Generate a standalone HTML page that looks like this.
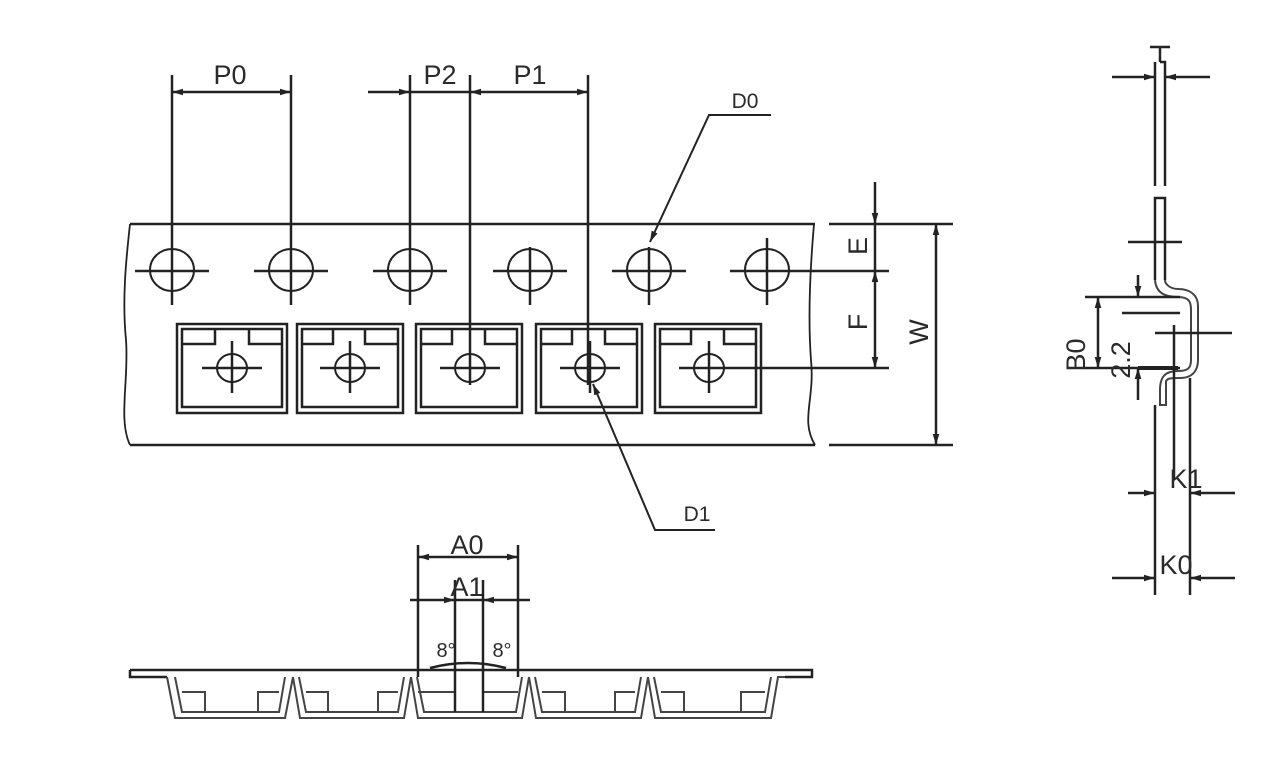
<!DOCTYPE html>
<html><head><meta charset="utf-8"><style>
html,body{margin:0;padding:0;background:#fff;}
svg{display:block;}
text{font-family:"Liberation Sans",sans-serif;fill:#2a2a2a;}
</style></head><body>
<svg width="1283" height="783" viewBox="0 0 1283 783" xmlns="http://www.w3.org/2000/svg">
<defs>
<marker id="a" viewBox="0 0 10 6" refX="10" refY="3" markerWidth="11" markerHeight="7" orient="auto-start-reverse" markerUnits="userSpaceOnUse"><path d="M0,0 L10,3 L0,6 Z" fill="#222"/></marker>
</defs>
<g stroke="#222" stroke-width="2.5" fill="none">
<line x1="130" y1="224" x2="815" y2="224"/>
<line x1="130" y1="445" x2="815" y2="445"/>
<path d="M130,224 C126,260 122,300 126,340 C129,380 118,420 130,445" stroke-width="1.8"/>
<path d="M814,224 C810,270 808,320 811,360 C815,400 800,420 815,445" stroke-width="1.8"/>
<g stroke-width="2">
<ellipse cx="172" cy="270" rx="22" ry="21"/><ellipse cx="291" cy="270" rx="22" ry="21"/>
<ellipse cx="410" cy="270" rx="22" ry="21"/><ellipse cx="530" cy="270" rx="22" ry="21"/>
<ellipse cx="649" cy="270" rx="22" ry="21"/><ellipse cx="767" cy="270" rx="22" ry="21"/>
</g>
<path d="M135,271H209 M254,271H328 M373,271H447 M493,271H567 M612,271H686 M730,271H889"/>
<path d="M172,75V305 M291,75V305 M410,75V305 M530,247V305 M649,247V305 M767,238V305"/>
<path d="M470,75V385 M588,75V385"/>
<g>
<rect x="177" y="324" width="110" height="89"/><rect x="182" y="329" width="100" height="78"/>
<path d="M182,344H215V329 M249,329V344H282"/>
<rect x="297" y="324" width="106" height="89"/><rect x="302" y="329" width="96" height="78"/>
<path d="M302,344H333V329 M365,329V344H398"/>
<rect x="416" y="324" width="106" height="89"/><rect x="421" y="329" width="96" height="78"/>
<path d="M421,344H452V329 M485,329V344H517"/>
<rect x="536" y="324" width="106" height="89"/><rect x="541" y="329" width="96" height="78"/>
<path d="M541,344H572V329 M605,329V344H637"/>
<rect x="655" y="324" width="106" height="89"/><rect x="660" y="329" width="96" height="78"/>
<path d="M660,344H691V329 M724,329V344H756"/>
</g>
<g stroke-width="2">
<ellipse cx="232" cy="368" rx="15" ry="14"/><ellipse cx="350" cy="368" rx="15" ry="14"/>
<ellipse cx="470" cy="368" rx="15" ry="14"/><ellipse cx="590" cy="368" rx="15" ry="14"/>
<ellipse cx="709" cy="368" rx="15" ry="14"/>
</g>
<path d="M202,368H262 M232,341V393 M320,368H380 M350,341V393 M440,368H500 M560,368H620 M590,341V393 M679,368H889 M709,341V393"/>
<line x1="172" y1="92" x2="291" y2="92" marker-start="url(#a)" marker-end="url(#a)"/>
<line x1="368" y1="92" x2="410" y2="92" marker-end="url(#a)"/>
<line x1="470" y1="92" x2="588" y2="92" marker-start="url(#a)" marker-end="url(#a)"/>
<line x1="410" y1="92" x2="470" y2="92"/>
<polyline points="650,242 709,115 771,115" stroke-width="2" marker-start="url(#a)"/>
<polyline points="593,384 655,530 715,530" stroke-width="2" marker-start="url(#a)"/>
<line x1="829" y1="224" x2="953" y2="224"/>
<line x1="829" y1="445" x2="953" y2="445"/>
<line x1="875" y1="182" x2="875" y2="224" marker-end="url(#a)"/>
<line x1="875" y1="224" x2="875" y2="271"/>
<line x1="875" y1="271" x2="875" y2="368" marker-start="url(#a)" marker-end="url(#a)"/>
<line x1="936" y1="224" x2="936" y2="445" marker-start="url(#a)" marker-end="url(#a)"/>
<path d="M1155,62V186 M1165,70V186 M1155,62V70"/>
<path d="M1150,47H1170 M1160,47V62 M1160,62H1165V70"/>
<line x1="1112" y1="77" x2="1155" y2="77" marker-end="url(#a)"/>
<line x1="1210" y1="77" x2="1165" y2="77" marker-end="url(#a)"/>
<path d="M1155,280V198H1165V280"/>
<path d="M1128,242H1182"/>
<path d="M1155,280 C1156,293 1165,297 1178,297 C1190,297 1191,303 1191,310 V360 C1191,368 1188,371 1178,371 C1165,371 1160,377 1160,390 V405 H1166 V382 C1166,378 1172,378 1180,378 C1193,378 1198,370 1198,360 V306 C1198,295 1190,289 1178,289 C1170,289 1165,284 1165,280" stroke="#444" stroke-width="2"/>
<path d="M1085,297H1180 M1085,368H1180 M1122,313H1180 M1155,333H1232"/>
<line x1="1138" y1="368" x2="1178" y2="368" stroke-width="4"/>
<line x1="1098" y1="297" x2="1098" y2="368" marker-start="url(#a)" marker-end="url(#a)"/>
<line x1="1138" y1="275" x2="1138" y2="297" marker-end="url(#a)"/>
<line x1="1138" y1="400" x2="1138" y2="368" marker-end="url(#a)"/>
<path d="M1174,325V480 M1155,405V595 M1190,378V595"/>
<line x1="1128" y1="493" x2="1155" y2="493" marker-end="url(#a)"/>
<line x1="1235" y1="493" x2="1190" y2="493" marker-end="url(#a)"/>
<line x1="1112" y1="578" x2="1155" y2="578" marker-end="url(#a)"/>
<line x1="1235" y1="578" x2="1190" y2="578" marker-end="url(#a)"/>
<path d="M130,670H812V677H785 M130,670V677H167"/>
<g stroke="#444" stroke-width="2">
<path d="M167,677 L175,718 H285 L293,677 M175,677 L182,712 H279 L285,677 M182,692H205V712 M258,712V692H279"/>
<path d="M293,677 L300,718 H404 L411,677 M299,677 L306,712 H398 L404,677 M306,692H328V712 M378,712V692H398"/>
<path d="M411,677 L418,718 H522 L529,677 M417,677 L424,712 H516 L522,677 M418,692H455 M483,692H518"/>
<path d="M529,677 L536,718 H641 L648,677 M535,677 L542,712 H635 L641,677 M542,692H565V712 M615,712V692H635"/>
<path d="M648,677 L655,718 H771 L778,677 H785 M654,677 L661,712 H765 L771,677 M661,692H684V712 M741,712V692H765"/>
</g>
<path d="M418,545V677 M518,545V677 M455,580V712 M483,580V712"/>
<line x1="418" y1="557" x2="518" y2="557" marker-start="url(#a)" marker-end="url(#a)"/>
<line x1="410" y1="600" x2="455" y2="600" marker-end="url(#a)"/>
<line x1="530" y1="600" x2="483" y2="600" marker-end="url(#a)"/>
<line x1="455" y1="600" x2="483" y2="600"/>
<path d="M430,668 Q468,658 506,668" stroke-width="2.5"/>
</g>
<g font-size="27">
<text x="230" y="84" text-anchor="middle">P0</text>
<text x="440" y="84" text-anchor="middle">P2</text>
<text x="530" y="84" text-anchor="middle">P1</text>
<text x="467" y="554" text-anchor="middle">A0</text>
<text x="467" y="596" text-anchor="middle">A1</text>
<text x="1186" y="488" text-anchor="middle">K1</text>
<text x="1176" y="574" text-anchor="middle">K0</text>
<text transform="translate(867,246) rotate(-90)" text-anchor="middle">E</text>
<text transform="translate(867,322) rotate(-90)" text-anchor="middle">F</text>
<text transform="translate(928,332) rotate(-90)" text-anchor="middle">W</text>
<text transform="translate(1085,355) rotate(-90)" text-anchor="middle">B0</text>
<text transform="translate(1130,360) rotate(-90)" text-anchor="middle">2.2</text>
</g>
<g font-size="21">
<text x="745" y="108" text-anchor="middle">D0</text>
<text x="697" y="521" text-anchor="middle">D1</text>
<text x="446" y="657" text-anchor="middle" font-size="20">8°</text>
<text x="502" y="657" text-anchor="middle" font-size="20">8°</text>
<text x="1160" y="57" text-anchor="middle" font-size="16">T</text>
</g>
</svg>
</body></html>
